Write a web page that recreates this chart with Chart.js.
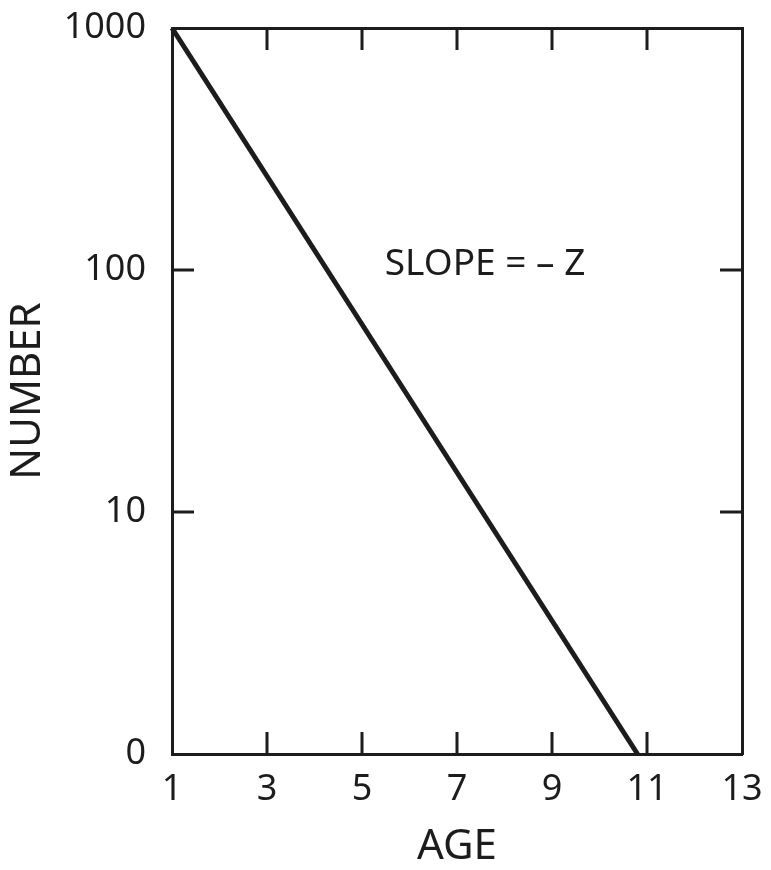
<!DOCTYPE html>
<html>
<head>
<meta charset="utf-8">
<title>Number vs Age</title>
<script src="https://cdn.jsdelivr.net/npm/chart.js@4.4.1/dist/chart.umd.min.js"></script>
<style>
  html, body { margin: 0; padding: 0; background: #fff; }
  canvas { display: block; }
</style>
</head>
<body>
<canvas id="chart" width="771" height="870"></canvas>
<script>
// данные графика
const ages = [1, 10.8];
const numbers = [1000, 1];

const xTicks = [1, 3, 5, 7, 9, 11, 13];
const xTickLabels = ["1", "3", "5", "7", "9", "11", "13"];
const yTicks = [1, 10, 100, 1000];
const yTickLabels = ["0", "10", "100", "1000"];

// внутренние засечки на рамке
const innerXTicks = [3, 5, 7, 9, 11];
const innerYTicks = [10, 100];

const slopeText = "SLOPE = \u2013 Z";
const slopeAt = { x: 5.48, y: 105 };

const INK = "#1c1c1c";
const FONT = "'Noto Sans', 'DejaVu Sans', sans-serif";

// фиксируем размер оси и убираем автоматические отступы под подписи
function fixSize(prop, size) {
  return (s) => {
    s[prop] = size;
    s.paddingTop = 0;
    s.paddingBottom = 0;
    s.paddingLeft = 0;
    s.paddingRight = 0;
  };
}

// рамка с засечками внутрь и подпись наклона
const frameTicks = {
  id: "frameTicks",
  afterDraw(chart) {
    const { ctx, chartArea } = chart;
    const x = chart.scales.x;
    const y = chart.scales.y;
    const len = 22;
    ctx.save();
    ctx.strokeStyle = INK;
    ctx.lineWidth = 3;
    ctx.beginPath();
    innerXTicks.forEach((v) => {
      const px = x.getPixelForValue(v);
      ctx.moveTo(px, chartArea.top);
      ctx.lineTo(px, chartArea.top + len);
      ctx.moveTo(px, chartArea.bottom);
      ctx.lineTo(px, chartArea.bottom - len);
    });
    innerYTicks.forEach((v) => {
      const py = y.getPixelForValue(v);
      ctx.moveTo(chartArea.left, py);
      ctx.lineTo(chartArea.left + len, py);
      ctx.moveTo(chartArea.right, py);
      ctx.lineTo(chartArea.right - len, py);
    });
    ctx.stroke();

    ctx.fillStyle = INK;
    ctx.font = "37px " + FONT;
    ctx.textAlign = "left";
    ctx.textBaseline = "middle";
    ctx.fillText(slopeText, x.getPixelForValue(slopeAt.x), y.getPixelForValue(slopeAt.y));
    ctx.restore();
  },
};

const borderOpts = { display: true, color: INK, width: 3 };
const noGrid = { display: true, drawOnChartArea: false, drawTicks: false };

new Chart(document.getElementById("chart"), {
  type: "line",
  data: {
    datasets: [
      {
        data: ages.map((a, i) => ({ x: a, y: numbers[i] })),
        borderColor: INK,
        borderWidth: 5,
        pointRadius: 0,
        fill: false,
        clip: false,
      },
    ],
  },
  options: {
    responsive: false,
    animation: false,
    layout: { padding: 0 },
    plugins: {
      legend: { display: false },
      tooltip: { enabled: false },
    },
    scales: {
      x: {
        type: "linear",
        position: "bottom",
        min: 1,
        max: 13,
        afterBuildTicks: (s) => { s.ticks = xTicks.map((v) => ({ value: v })); },
        afterFit: fixSize("height", 116),
        grid: noGrid,
        border: borderOpts,
        ticks: {
          color: INK,
          font: { family: FONT, size: 36 },
          padding: 14,
          maxRotation: 0,
          autoSkip: false,
          callback: (v, i) => xTickLabels[i],
        },
        title: {
          display: true,
          text: "AGE",
          color: INK,
          font: { family: FONT, size: 42 },
          padding: { top: 0, bottom: -2 },
        },
      },
      y: {
        type: "logarithmic",
        position: "left",
        min: 1,
        max: 1000,
        afterBuildTicks: (s) => { s.ticks = yTicks.map((v) => ({ value: v })); },
        afterFit: fixSize("width", 172),
        grid: noGrid,
        border: borderOpts,
        ticks: {
          color: INK,
          font: { family: FONT, size: 36 },
          padding: 26,
          autoSkip: false,
          callback: (v, i) => yTickLabels[i],
        },
        title: {
          display: true,
          text: "NUMBER",
          color: INK,
          font: { family: FONT, size: 42 },
          padding: { top: 3, bottom: 0 },
        },
      },
      x2: {
        type: "linear",
        position: "top",
        min: 1,
        max: 13,
        afterFit: fixSize("height", 28),
        grid: noGrid,
        border: borderOpts,
        ticks: { display: false },
      },
      y2: {
        type: "logarithmic",
        position: "right",
        min: 1,
        max: 1000,
        afterFit: fixSize("width", 29),
        grid: noGrid,
        border: borderOpts,
        ticks: { display: false },
      },
    },
  },
  plugins: [frameTicks],
});
</script>
</body>
</html>
